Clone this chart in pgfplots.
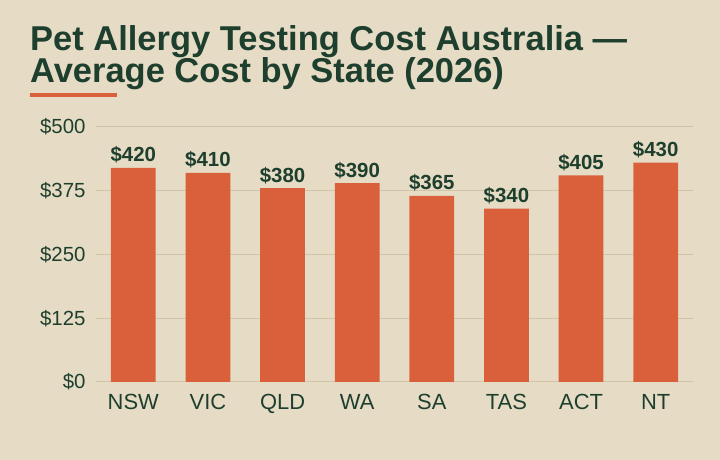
\documentclass[border=0pt]{standalone}
\usepackage{pgfplots}
\pgfplotsset{compat=1.18}
\usepackage{fontspec}
\setmainfont{Liberation Sans}
\definecolor{bgcream}{HTML}{E6DCC5}
\definecolor{barorange}{HTML}{D9603B}
\definecolor{darkgreen}{HTML}{1E3F2E}
\definecolor{gridtan}{HTML}{D0C5A8}

\begin{document}
\begin{tikzpicture}[x=1bp,y=1bp]
% page background fixes the bounding box
\fill[bgcream] (0,0) rectangle (720,460);

% title block
\node[anchor=base west,inner sep=0pt,text=darkgreen,font=\bfseries\fontsize{34.6}{34}\selectfont]
  at (30,409) {Pet Allergy Testing Cost Australia ---};
\node[anchor=base west,inner sep=0pt,text=darkgreen,font=\bfseries\fontsize{34.6}{34}\selectfont]
  at (30,377) {Average Cost by State (2026)};
\fill[barorange] (30,363) rectangle (117,367);

\begin{axis}[
    at={(96bp,78bp)},
    anchor=south west,
    scale only axis,
    width=597bp,
    height=255bp,
    xmin=-0.5, xmax=7.5,
    ymin=0, ymax=500,
    axis line style={draw=none},
    major tick length=0pt,
    xtick={0,...,7},
    xticklabels={NSW,VIC,QLD,WA,SA,TAS,ACT,NT},
    ytick={0,125,250,375,500},
    yticklabels={\$0,\$125,\$250,\$375,\$500},
    ymajorgrids,
    major grid style={gridtan,line width=1bp},
    tick label style={text=darkgreen},
    xticklabel style={font=\fontsize{22}{22}\selectfont,yshift=-9bp},
    yticklabel style={font=\fontsize{20.5}{20}\selectfont,xshift=-7bp},
    /pgf/number format/assume math mode=true,
    clip=false,
]
\addplot[
    ybar,
    bar width=0.6,
    fill=barorange,
    draw=none,
    nodes near coords={\$\pgfmathprintnumber{\pgfplotspointmeta}},
    every node near coord/.append style={
        anchor=base, yshift=6bp, inner sep=0pt,
        text=darkgreen, font=\bfseries\fontsize{20.5}{20}\selectfont},
] coordinates {
    (0,420) (1,410) (2,380) (3,390) (4,365) (5,340) (6,405) (7,430)
};
\end{axis}
\end{tikzpicture}
\end{document}
